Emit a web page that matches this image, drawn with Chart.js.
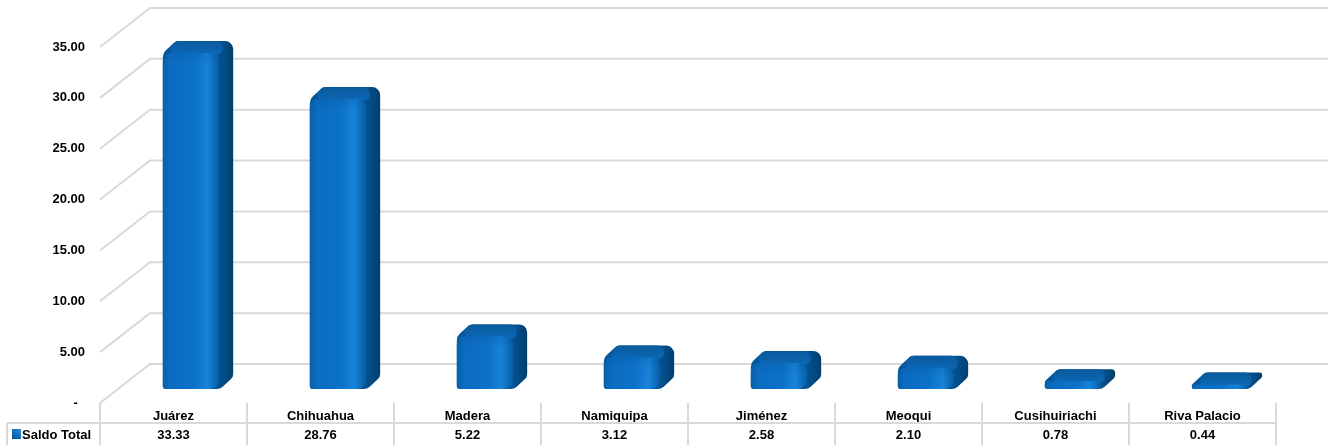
<!DOCTYPE html>
<html><head><meta charset="utf-8">
<script src="https://cdn.jsdelivr.net/npm/chart.js@4.4.1/dist/chart.umd.min.js"></script>
<style>html,body{margin:0;padding:0;background:#fff;}#wrap{width:1332px;height:445px;position:relative;}</style>
</head><body><div id="wrap"><canvas id="c"></canvas></div>
<script>
const categories = ['Juárez','Chihuahua','Madera','Namiquipa','Jiménez','Meoqui','Cusihuiriachi','Riva Palacio'];
const saldoTotal = [33.33, 28.76, 5.22, 3.12, 2.58, 2.10, 0.78, 0.44];
const seriesName = 'Saldo Total';
const yMin = 0, yMax = 35, yStep = 5;

const FONT = '"Liberation Sans", Arial, sans-serif';
const WALL_DX = 50, WALL_DY = 39;
const BAR_SHIFT = 18, BAR_DX = 13, BAR_DY = 12;
const GRID_COLOR = '#d9d9d9';

function fmt(v){ return v === 0 ? '-  ' : v.toFixed(2); }

const wallPlugin = {
  id: 'wall',
  beforeDatasetsDraw(chart){
    const {ctx, scales:{x, y}} = chart;
    ctx.save();
    ctx.strokeStyle = GRID_COLOR; ctx.lineWidth = 2;
    y.ticks.forEach(t => {
      const py = y.getPixelForValue(t.value);
      ctx.beginPath();
      ctx.moveTo(x.left, py);
      ctx.lineTo(x.left + WALL_DX, py - WALL_DY);
      ctx.lineTo(x.right + WALL_DX + 2, py - WALL_DY);
      ctx.stroke();
    });
    ctx.restore();
  }
};

// rounded polygon through points with per-corner radii (clamped to half of adjacent edges)
function roundedPoly(ctx, pts, radii){
  const n = pts.length;
  const len = (a, b) => Math.hypot(b[0] - a[0], b[1] - a[1]);
  const rs = pts.map((p, i) => {
    const prev = pts[(i - 1 + n) % n], next = pts[(i + 1) % n];
    return Math.max(0, Math.min(radii[i], len(prev, p) / 2, len(p, next) / 2));
  });
  ctx.beginPath();
  const m0 = [(pts[n-1][0] + pts[0][0]) / 2, (pts[n-1][1] + pts[0][1]) / 2];
  ctx.moveTo(m0[0], m0[1]);
  for (let i = 0; i < n; i++) {
    const p = pts[i], q = pts[(i + 1) % n];
    ctx.arcTo(p[0], p[1], q[0], q[1], rs[i]);
  }
  ctx.closePath();
}

const bar3dPlugin = {
  id: 'bar3d',
  beforeDatasetDraw(chart, args){
    const {ctx} = chart;
    const meta = args.meta;
    ctx.save();
    meta.data.forEach(el => {
      const p = el.getProps(['x','y','base','width'], true);
      const L = p.x - p.width/2 + BAR_SHIFT, R = L + p.width;
      const T = p.y, B = p.base;
      const h = Math.max(B - T, 1);
      // silhouette (side colour)
      const sil = [[L, B], [L, T], [L + BAR_DX, T - BAR_DY], [R + BAR_DX, T - BAR_DY], [R + BAR_DX, B - BAR_DY], [R, B]];
      let g = ctx.createLinearGradient(R - 6, 0, R + BAR_DX, 0);
      g.addColorStop(0, '#05569a'); g.addColorStop(0.5, '#034d88'); g.addColorStop(1, '#023f6e');
      ctx.fillStyle = g;
      roundedPoly(ctx, sil, [3, 9, 6, 8, 6, 10]);
      ctx.fill();
      // top face
      g = ctx.createLinearGradient(0, T - BAR_DY, 0, T);
      g.addColorStop(0, '#0a5a9c'); g.addColorStop(1, '#0b66b3');
      ctx.fillStyle = g;
      const top = [[L, T + 2], [L + BAR_DX, T - BAR_DY], [R + BAR_DX - 2, T - BAR_DY], [R - 1, T + 2]];
      roundedPoly(ctx, top, [6, 6, 7, 5]);
      ctx.fill();
      // front face
      g = ctx.createLinearGradient(L, 0, R, 0);
      g.addColorStop(0, '#0a5fa6');
      g.addColorStop(0.12, '#0b6cc0');
      g.addColorStop(0.55, '#0b72c9');
      g.addColorStop(0.78, '#1883d8');
      g.addColorStop(0.92, '#0b68b6');
      g.addColorStop(1, '#085a9c');
      ctx.fillStyle = g;
      const front = [[L, B], [L, T], [R - 1, T], [R - 1, B]];
      roundedPoly(ctx, front, [3, 8, 8, 9]);
      ctx.fill();
      if (h > 12) {
        const gv = ctx.createLinearGradient(0, T, 0, T + 12);
        gv.addColorStop(0, 'rgba(10,80,150,0.25)'); gv.addColorStop(1, 'rgba(10,80,150,0)');
        ctx.fillStyle = gv;
        roundedPoly(ctx, front, [3, 8, 8, 9]);
        ctx.fill();
      }
    });
    ctx.restore();
    return false;
  }
};

const tablePlugin = {
  id: 'table',
  afterDraw(chart){
    const {ctx, scales:{x, y}} = chart;
    const H = chart.height;
    const n = categories.length;
    const w = (x.right - x.left) / n;
    const rowSplit = 423;
    ctx.save();
    ctx.strokeStyle = GRID_COLOR; ctx.lineWidth = 2;
    for (let i = 0; i <= n; i++) {
      const px = x.left + i * w;
      ctx.beginPath(); ctx.moveTo(px, y.bottom); ctx.lineTo(px, H); ctx.stroke();
    }
    ctx.beginPath(); ctx.moveTo(7, rowSplit); ctx.lineTo(x.right, rowSplit); ctx.stroke();
    ctx.beginPath(); ctx.moveTo(7, rowSplit); ctx.lineTo(7, H); ctx.stroke();
    // legend key
    const lg = ctx.createLinearGradient(12, 440, 21, 430);
    lg.addColorStop(0, '#034a80'); lg.addColorStop(0.5, '#0b6cc0'); lg.addColorStop(1, '#2a8ad8');
    ctx.fillStyle = lg; ctx.fillRect(12, 429, 9, 10);
    ctx.fillStyle = '#000';
    ctx.font = 'bold 13px ' + FONT;
    ctx.textBaseline = 'middle';
    ctx.textAlign = 'left';
    ctx.fillText(seriesName, 22, 435);
    ctx.textAlign = 'center';
    saldoTotal.forEach((v, i) => {
      ctx.fillText(v.toFixed(2), x.getPixelForValue(i), 435);
    });
    ctx.restore();
  }
};

new Chart(document.getElementById('c'), {
  type: 'bar',
  data: {
    labels: categories,
    datasets: [{
      label: seriesName,
      data: saldoTotal,
      yAxisID: 'yBar',
      backgroundColor: '#0070c0',
      categoryPercentage: 1,
      barPercentage: 0.39
    }]
  },
  options: {
    responsive: true,
    maintainAspectRatio: false,
    animation: false,
    layout: { padding: { left: 0, top: 47, right: 56, bottom: 0 } },
    plugins: { legend: { display: false }, tooltip: { enabled: false } },
    scales: {
      x: {
        type: 'category',
        grid: { display: false, drawTicks: false },
        border: { display: false },
        ticks: { color: '#000', font: { family: FONT, size: 13, weight: 'bold' }, padding: 6, maxRotation: 0, autoSkip: false },
        afterFit(s){ s.height = 42; }
      },
      y: {
        position: 'left',
        min: yMin, max: yMax,
        grid: { display: false, drawTicks: false },
        border: { display: false },
        ticks: { stepSize: yStep, color: '#000', font: { family: FONT, size: 13, weight: 'bold' }, padding: 15, callback: v => fmt(v) },
        afterFit(s){ s.width = 100; }
      },
      yBar: {
        display: false,
        position: 'left',
        min: -1.39, max: 33.93
      }
    }
  },
  plugins: [wallPlugin, bar3dPlugin, tablePlugin]
});
</script>
</body></html>
